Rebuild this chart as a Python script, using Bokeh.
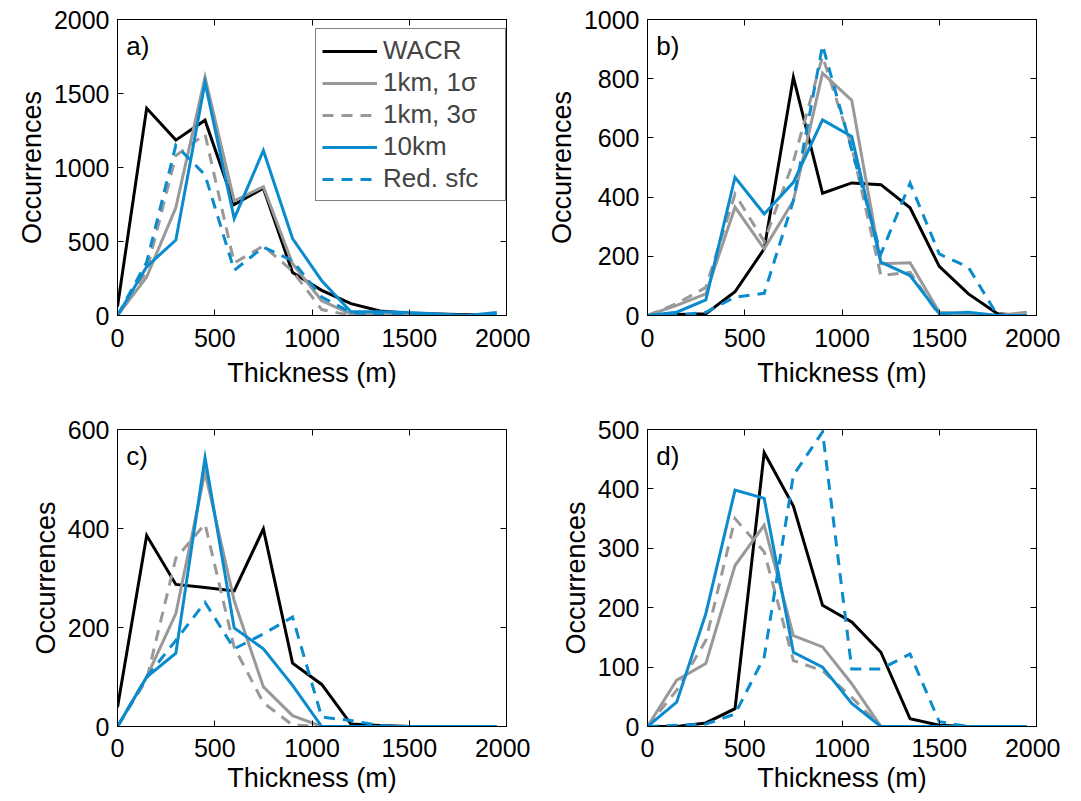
from bokeh.plotting import figure
from bokeh.layouts import gridplot
from bokeh.models import Legend, LegendItem, LinearAxis, FixedTicker, Label, Range1d
from bokeh.embed import file_html
from bokeh.resources import INLINE

# ---------------- data ----------------
thickness = [0, 150, 300, 450, 600, 750, 900, 1050, 1200, 1350, 1500, 1650, 1800, 1950]

series_names = ["WACR", "1km, 1\u03c3", "1km, 3\u03c3", "10km", "Red. sfc"]

wacr_a = [60, 1400, 1185, 1320, 750, 860, 290, 170, 80, 30, 15, 10, 5, 5]
km1_a = [0, 260, 730, 1610, 775, 870, 350, 100, 10, 5, 5, 0, 0, 5]
km3_a = [0, 300, 1080, 1225, 355, 470, 300, 40, 0, 0, 0, 0, 0, 0]
km10_a = [0, 330, 510, 1575, 655, 1115, 520, 235, 25, 25, 20, 10, 0, 20]
red_a = [0, 360, 1150, 950, 305, 462, 370, 125, 20, 5, 0, 0, 0, 0]

wacr_b = [0, 3, 6, 80, 225, 805, 413, 448, 442, 364, 166, 73, 6, 0]
km1_b = [0, 34, 73, 366, 225, 388, 819, 727, 175, 178, 11, 6, 0, 11]
km3_b = [0, 40, 95, 410, 250, 520, 875, 570, 135, 146, 0, 0, 0, 0]
km10_b = [0, 11, 53, 467, 343, 450, 661, 605, 180, 135, 6, 11, 0, 0]
red_b = [0, 0, 11, 62, 75, 388, 913, 560, 208, 447, 208, 163, 0, 0]

wacr_c = [39, 386, 287, 281, 274, 399, 128, 85, 5, 2, 0, 0, 0, 0]
km1_c = [0, 100, 228, 514, 254, 80, 22, 0, 0, 0, 0, 0, 0, 0]
km3_c = [0, 95, 340, 409, 160, 48, 3, 0, 0, 0, 0, 0, 0, 0]
km10_c = [0, 100, 148, 543, 199, 157, 83, 0, 0, 0, 0, 0, 0, 0]
red_c = [0, 100, 174, 251, 157, 187, 221, 19, 12, 2, 0, 0, 0, 0]

wacr_d = [0, 0, 6, 30, 461, 371, 204, 176, 125, 13, 2, 0, 0, 0]
km1_d = [0, 78, 106, 271, 339, 153, 134, 72, 0, 0, 0, 0, 0, 0]
km3_d = [0, 61, 145, 350, 294, 111, 94, 49, 0, 0, 0, 0, 0, 0]
km10_d = [0, 41, 190, 398, 384, 125, 100, 39, 0, 0, 0, 0, 0, 0]
red_d = [0, 2, 4, 21, 117, 423, 496, 97, 97, 122, 8, 0, 0, 0]

panel_letters = ["a)", "b)", "c)", "d)"]
y_max = [2000, 1000, 600, 500]
y_ticks = [[0, 500, 1000, 1500, 2000], [0, 200, 400, 600, 800, 1000],
           [0, 200, 400, 600], [0, 100, 200, 300, 400, 500]]
x_ticks = [0, 500, 1000, 1500, 2000]

panels = [
    [wacr_a, km1_a, km3_a, km10_a, red_a],
    [wacr_b, km1_b, km3_b, km10_b, red_b],
    [wacr_c, km1_c, km3_c, km10_c, red_c],
    [wacr_d, km1_d, km3_d, km10_d, red_d],
]

# ---------------- styles ----------------
BLUE = "#0a8bcd"
GRAY = "#999999"
styles = [
    dict(line_color="black", line_dash="solid"),
    dict(line_color=GRAY, line_dash="solid"),
    dict(line_color=GRAY, line_dash="11 8"),
    dict(line_color=BLUE, line_dash="solid"),
    dict(line_color=BLUE, line_dash="11 8"),
]
FONT = "Liberation Sans"
TICK_FS = "25px"
LABEL_FS = "27px"


def style_axis(ax, show_labels=True):
    ax.axis_line_color = "black"
    ax.axis_line_width = 1
    ax.major_tick_in = 6
    ax.major_tick_out = 0
    ax.minor_tick_line_color = None
    ax.major_tick_line_color = "black"
    ax.major_label_text_font = FONT
    ax.axis_label_text_font = FONT
    ax.axis_label_text_font_style = "normal"
    ax.axis_label_text_color = "black"
    if show_labels:
        ax.major_label_text_color = "black"
        ax.major_label_text_font_size = TICK_FS
        ax.axis_label_text_font_size = LABEL_FS
    else:
        ax.major_label_text_color = None
        ax.major_label_text_font_size = "1px"
        ax.major_label_standoff = 0


figs = []
for i in range(4):
    top_row = i < 2
    p = figure(width=530, height=400 if top_row else 401,
               output_backend="svg", toolbar_location=None,
               x_range=Range1d(0, 2000), y_range=Range1d(0, y_max[i]),
               min_border_left=117, min_border_right=24,
               min_border_top=19 if top_row else 29,
               min_border_bottom=85 if top_row else 75)
    p.xgrid.visible = False
    p.ygrid.visible = False
    p.outline_line_color = "black"
    p.outline_line_width = 1
    p.background_fill_color = "white"
    p.border_fill_color = "white"

    p.xaxis.ticker = FixedTicker(ticks=x_ticks)
    p.yaxis.ticker = FixedTicker(ticks=y_ticks[i])
    p.xaxis.axis_label = "Thickness (m)"
    p.yaxis.axis_label = "Occurrences"
    for ax in p.xaxis + p.yaxis:
        style_axis(ax)
    p.xaxis.major_label_standoff = 13 if top_row else 12
    p.yaxis.major_label_standoff = 8
    p.xaxis.axis_label_standoff = 8 if top_row else 3
    p.yaxis.axis_label_standoff = 4

    ax_r = LinearAxis(ticker=FixedTicker(ticks=y_ticks[i]))
    style_axis(ax_r, show_labels=False)
    p.add_layout(ax_r, "right")
    ax_t = LinearAxis(ticker=FixedTicker(ticks=x_ticks))
    style_axis(ax_t, show_labels=False)
    p.add_layout(ax_t, "above")

    renderers = []
    for vals, st in zip(panels[i], styles):
        r = p.line(thickness, vals, line_width=3, line_join="miter", **st)
        renderers.append(r)

    p.add_layout(Label(x=45, y=y_max[i] * 0.962, text=panel_letters[i],
                       text_font=FONT, text_font_size="26px", text_baseline="top",
                       text_color="black"))

    if i == 0:
        items = [LegendItem(label=n, renderers=[r]) for n, r in zip(series_names, renderers)]
        leg = Legend(items=items, location=(198, 114), orientation="vertical",
                     label_text_font=FONT, label_text_font_size="26px",
                     glyph_width=55, glyph_height=30, label_height=30, label_width=116,
                     label_standoff=6, spacing=1, padding=6, margin=0,
                     border_line_color="black", border_line_width=1,
                     background_fill_color="white", background_fill_alpha=1)
        p.add_layout(leg, "center")
    figs.append(p)

grid = gridplot([[figs[0], figs[1]], [figs[2], figs[3]]], toolbar_location=None)

open("out.html", "w").write(file_html(grid, INLINE))
